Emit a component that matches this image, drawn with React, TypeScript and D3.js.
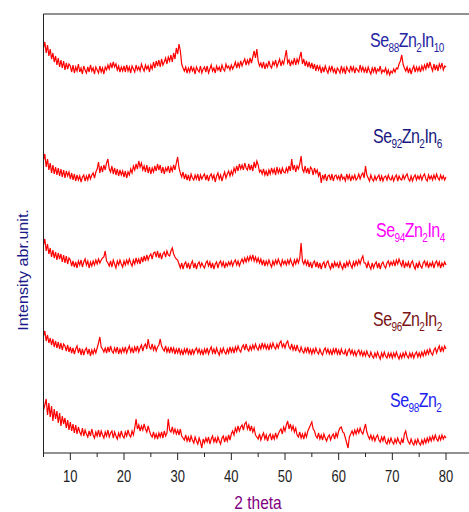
import React from "react";
import * as d3 from "d3";

// 2θ scan grid: 5° to 80° in 0.25° steps (301 points)
const scanStart = 5;
const scanStep = 0.25;

// Intensities (a.u.) relative to each pattern's baseline
const seZnIn10 = [
  22,28,17,25,14,21,11,17,8,14,5,12,3,10,2,9,0,7,1,6,
  4,-2,5,-3,3,-1,6,-2,2,-4,4,0,-3,3,-2,5,-1,2,-4,3,
  0,-3,4,-2,2,-4,3,0,5,1,7,2,8,3,6,0,4,-2,3,-1,
  4,-2,5,-1,3,-3,4,1,-2,5,0,3,-1,6,2,-1,5,1,4,-2,
  5,1,8,2,9,4,10,3,11,5,8,12,6,13,9,15,8,17,11,22,
  16,26,19,6,2,-1,3,-3,2,-2,4,-1,2,-4,3,0,-2,4,-3,1,
  3,-2,4,-3,1,5,-1,2,-3,4,0,3,-2,5,1,-1,6,2,4,0,
  5,1,4,8,2,7,3,9,4,8,11,5,10,6,12,7,13,19,12,21,
  9,4,7,2,8,1,6,3,9,4,2,8,5,10,3,7,11,4,9,6,
  13,20,7,10,4,9,6,12,5,11,7,13,18,6,11,4,9,3,8,2,
  7,1,6,-1,5,0,4,-3,3,-2,4,0,-3,3,-1,4,-2,1,-4,2,
  0,-3,4,-2,2,-4,3,0,-2,4,-1,3,-3,2,0,-2,5,-1,3,-2,
  2,-3,3,-1,-4,2,-2,3,-3,1,-1,4,-3,0,-2,2,-4,0,-5,-1,
  -3,1,-2,2,1,6,9,15,6,2,-1,3,-3,2,-4,1,4,-2,3,-1,
  3,-2,4,0,5,1,7,2,8,3,-1,6,0,5,-1,6,2,7,0,4,
  3,
];
const seZnIn6 = [
  18,24,11,19,8,15,5,13,4,11,3,10,2,9,1,8,0,7,2,6,
  -1,5,-2,4,-3,3,-2,2,-4,1,3,-3,2,-2,4,-1,3,5,0,6,
  9,16,5,12,6,13,8,15,19,9,6,12,4,10,3,9,2,8,3,7,
  1,7,0,6,3,9,5,12,8,14,9,17,11,15,8,12,6,13,5,11,
  4,10,6,12,7,14,8,13,5,11,4,10,7,12,5,11,7,13,8,15,
  21,10,5,1,6,-1,4,-2,3,-3,4,0,-2,3,-1,4,-3,3,-1,2,
  4,-2,3,-3,2,4,-1,3,-4,2,5,-1,3,-3,2,6,0,4,7,2,
  7,3,10,6,12,7,14,9,13,8,15,10,8,14,8,13,7,16,10,17,
  13,6,8,4,9,3,7,2,8,4,10,5,9,3,11,5,9,4,10,6,
  5,10,6,12,7,19,8,13,6,12,9,14,22,9,6,12,5,10,4,11,
  9,3,10,5,8,2,6,-5,3,-1,4,-3,2,3,-2,4,-3,2,3,-1,
  2,-2,4,-1,1,-3,4,-1,3,-3,2,-1,3,-2,0,4,-1,3,5,0,
  12,3,0,-3,3,-1,-3,2,-2,1,3,-3,2,-3,1,2,-2,3,-1,-2,
  2,-3,1,3,-3,2,-1,-2,3,-1,2,4,-1,-3,2,-3,1,3,-2,2,
  -1,3,-2,2,4,-1,-3,3,-1,2,-2,3,-1,4,0,-2,3,-1,2,-2,
  1,
];
const seZnIn4 = [
  20,26,14,21,11,17,8,15,7,13,5,12,6,11,3,10,2,9,1,7,
  5,-1,4,-2,3,-3,4,0,5,-2,3,6,0,4,-3,3,-1,4,0,5,
  1,6,2,5,7,8,14,4,2,-1,4,-2,5,1,-3,4,0,5,1,-2,
  4,0,5,1,6,2,-1,5,1,7,2,6,1,8,3,9,4,10,5,9,
  11,6,12,13,8,14,7,12,6,11,13,8,14,10,9,14,17,11,8,6,
  5,1,-3,2,-4,1,3,-3,2,-4,1,4,-3,2,-4,1,3,-2,2,-1,
  -3,2,4,-1,3,-3,2,-4,1,3,-3,2,4,-1,3,-3,2,-1,3,0,
  4,-1,3,5,0,4,-1,3,6,2,7,3,8,4,9,5,10,4,8,3,
  7,2,6,0,5,-1,4,0,5,1,-2,4,0,5,1,6,2,-1,5,1,
  4,0,5,1,6,2,-1,5,1,6,2,7,22,4,1,5,0,4,-2,3,
  -3,2,4,-2,3,-3,2,-4,1,3,-3,2,4,-1,-4,2,-3,3,-1,2,
  -3,3,-1,-4,2,-3,3,-1,4,0,-3,3,-1,4,0,5,1,6,9,2,
  2,-3,3,-1,-4,2,-3,1,3,-3,2,-4,1,3,-1,-3,2,4,-1,3,
  0,4,-1,5,1,6,2,-1,5,-3,2,-1,3,-3,2,4,-1,-4,2,-3,
  3,-1,-3,2,4,-1,3,-3,2,-1,3,-3,2,4,-1,3,-3,2,-1,3,
  0,
];
const seZnIn2 = [
  17,22,12,18,10,15,8,14,6,12,5,11,4,10,3,9,7,2,8,1,
  6,0,5,-1,4,7,0,5,-2,4,-2,3,5,-1,4,-3,3,-1,4,0,
  5,10,16,6,4,1,5,0,6,1,7,2,0,5,1,6,-1,4,0,5,
  1,6,0,4,7,1,5,0,6,2,7,1,5,8,2,7,9,4,14,6,
  4,9,3,7,2,6,8,14,7,4,2,7,1,5,0,6,1,5,-1,4,
  0,5,-1,3,-2,4,0,5,-1,3,-2,4,-1,3,5,0,4,-1,3,-2,
  4,0,5,-1,3,6,0,4,-1,5,1,-2,4,0,5,1,-1,4,0,6,
  1,5,0,6,2,7,3,1,6,8,3,9,4,2,7,3,8,4,9,5,
  3,8,4,10,5,9,4,8,3,9,5,10,6,4,9,5,10,12,6,9,
  5,10,12,6,4,9,3,7,2,8,3,1,6,2,0,5,1,6,0,4,
  -1,4,0,5,1,-1,4,0,-2,3,5,0,4,-1,3,-2,4,0,5,-1,
  3,-2,4,0,-1,3,-3,2,4,-1,3,-2,2,-3,1,3,-2,2,-3,1,
  -3,2,-2,-4,1,-3,-5,0,-4,1,-3,-6,0,-4,1,-3,-5,0,-4,0,
  -5,0,-4,1,-3,-6,-1,-5,0,-4,1,-3,-5,0,-4,0,-5,-1,1,-4,
  0,-4,1,-3,2,-2,3,-1,4,0,-2,3,5,0,4,7,1,6,2,7,
  4,
];
const seZn = [
  30,35,41,25,37,23,34,19,31,21,29,17,27,14,24,16,22,12,20,10,
  18,9,16,7,15,6,13,8,5,12,4,10,6,3,9,4,11,5,2,8,
  4,10,3,9,5,2,8,4,10,3,7,9,2,8,4,1,7,3,9,4,
  2,8,4,10,5,3,9,5,12,21,11,15,9,14,10,16,11,8,14,9,
  5,3,8,2,6,1,7,3,8,2,9,4,7,21,10,8,13,7,11,6,
  10,5,11,4,2,0,5,-1,3,-2,4,0,-3,3,-1,-4,2,-2,-8,1,
  -3,2,-2,3,-4,1,4,-2,2,-3,3,-1,-4,2,4,-2,3,-1,5,0,
  6,9,5,12,8,14,9,13,15,10,16,18,11,15,9,14,8,12,5,3,
  1,6,0,4,7,1,5,-1,4,6,0,5,1,7,2,6,9,11,6,13,
  9,15,19,11,16,10,14,8,12,5,3,8,2,6,1,7,3,9,12,15,
  18,11,9,4,2,7,1,5,0,6,2,-1,3,5,0,4,6,1,7,3,
  9,12,13,8,7,2,-3,-8,3,6,9,5,10,6,11,7,12,8,6,11,
  16,8,4,1,5,0,4,-1,3,5,0,-2,3,-1,4,-2,-4,1,-3,2,
  -2,-4,1,-3,2,-2,-4,1,-3,6,9,2,-2,-4,1,-3,-5,0,-4,1,
  -3,-5,0,-4,1,-3,2,-2,3,-1,4,0,5,1,-1,4,0,5,1,4,
  2,
];

// stacking offsets (a.u.) of each pattern's baseline
const seriesValues = [seZnIn10, seZnIn6, seZnIn4, seZnIn2, seZn];
const seriesOffsets = [383, 275, 188, 100, 13];

// labels: [main, sub] pairs
const seriesLabels: [string, string][][] = [
  [["Se", "88"], ["Zn", "2"], ["In", "10"]],
  [["Se", "92"], ["Zn", "2"], ["In", "6"]],
  [["Se", "94"], ["Zn", "2"], ["In", "4"]],
  [["Se", "96"], ["Zn", "2"], ["In", "2"]],
  [["Se", "98"], ["Zn", "2"]],
];
const labelColors = ["#2626a4", "#18187e", "#ff00ff", "#7a1414", "#2222f0"];
const labelPos = [
  [370, 47],
  [373, 143],
  [376, 237],
  [373, 326],
  [390, 407],
];

const majorTicks = [10, 20, 30, 40, 50, 60, 70, 80];
const minorTicks = [5, 15, 25, 35, 45, 55, 65, 75];
const xTitle = "2 theta";
const yTitle = "Intensity abr.unit.";

const W = 469;
const H = 512;
const FONT = "Arial, 'Liberation Sans', Helvetica, sans-serif";

export default function App() {
  const x = d3.scaleLinear().domain([5, 80]).range([43.5, 446]);
  const y = d3.scaleLinear().domain([0, 440]).range([453, 13]);
  const left = 43.5;
  const top = 14;
  const bottom = 453;

  const line = d3
    .line<number>()
    .x((_, i) => x(scanStart + i * scanStep))
    .y((d) => y(d));

  return (
    <svg
      width={W}
      height={H}
      style={{ position: "absolute", left: 0, top: 0, background: "#fff" }}
      fontFamily={FONT}
    >
      <rect x={0} y={0} width={W} height={H} fill="#fff" />
      {seriesValues.map((vals, si) => (
        <path
          key={si}
          d={line(vals.map((v) => v + seriesOffsets[si])) || ""}
          fill="none"
          stroke="#ff0000"
          strokeWidth={1.2}
          strokeLinejoin="miter"
        />
      ))}
      {/* frame */}
      <line x1={left} x2={W} y1={top} y2={top} stroke="#222" strokeWidth={1} />
      <line x1={left} x2={left} y1={top} y2={bottom} stroke="#222" strokeWidth={1} />
      <line x1={left} x2={W} y1={bottom} y2={bottom} stroke="#222" strokeWidth={1} />
      {majorTicks.map((t) => (
        <g key={"M" + t}>
          <line x1={x(t)} x2={x(t)} y1={bottom} y2={bottom + 7} stroke="#222" strokeWidth={1} />
          <text
            transform={`translate(${x(t)},481.5) scale(1,1.25)`}
            textAnchor="middle"
            fontSize={13}
            fill="#222"
          >
            {t}
          </text>
        </g>
      ))}
      {minorTicks.map((t) => (
        <line key={"m" + t} x1={x(t)} x2={x(t)} y1={bottom} y2={bottom + 4} stroke="#222" strokeWidth={1} />
      ))}
      <text
        transform={`translate(258,509) scale(1,1.2)`}
        textAnchor="middle"
        fontSize={15.5}
        fill="#800080"
      >
        {xTitle}
      </text>
      <text
        transform={`translate(28,270) scale(1,1.15) rotate(-90)`}
        textAnchor="middle"
        fontSize={14}
        fill="#1a1a8a"
      >
        {yTitle}
      </text>
      {seriesLabels.map((parts, si) => (
        <text
          key={"L" + si}
          transform={`translate(${labelPos[si][0]},${labelPos[si][1]}) scale(1,1.25)`}
          fontSize={16}
          fill={labelColors[si]}
          letterSpacing={-0.5}
        >
          {parts.map(([main, sub], pi) => (
            <React.Fragment key={pi}>
              <tspan dy={pi === 0 ? 0 : -4}>{main}</tspan>
              <tspan fontSize={10} dy={4}>
                {sub}
              </tspan>
            </React.Fragment>
          ))}
        </text>
      ))}
    </svg>
  );
}
